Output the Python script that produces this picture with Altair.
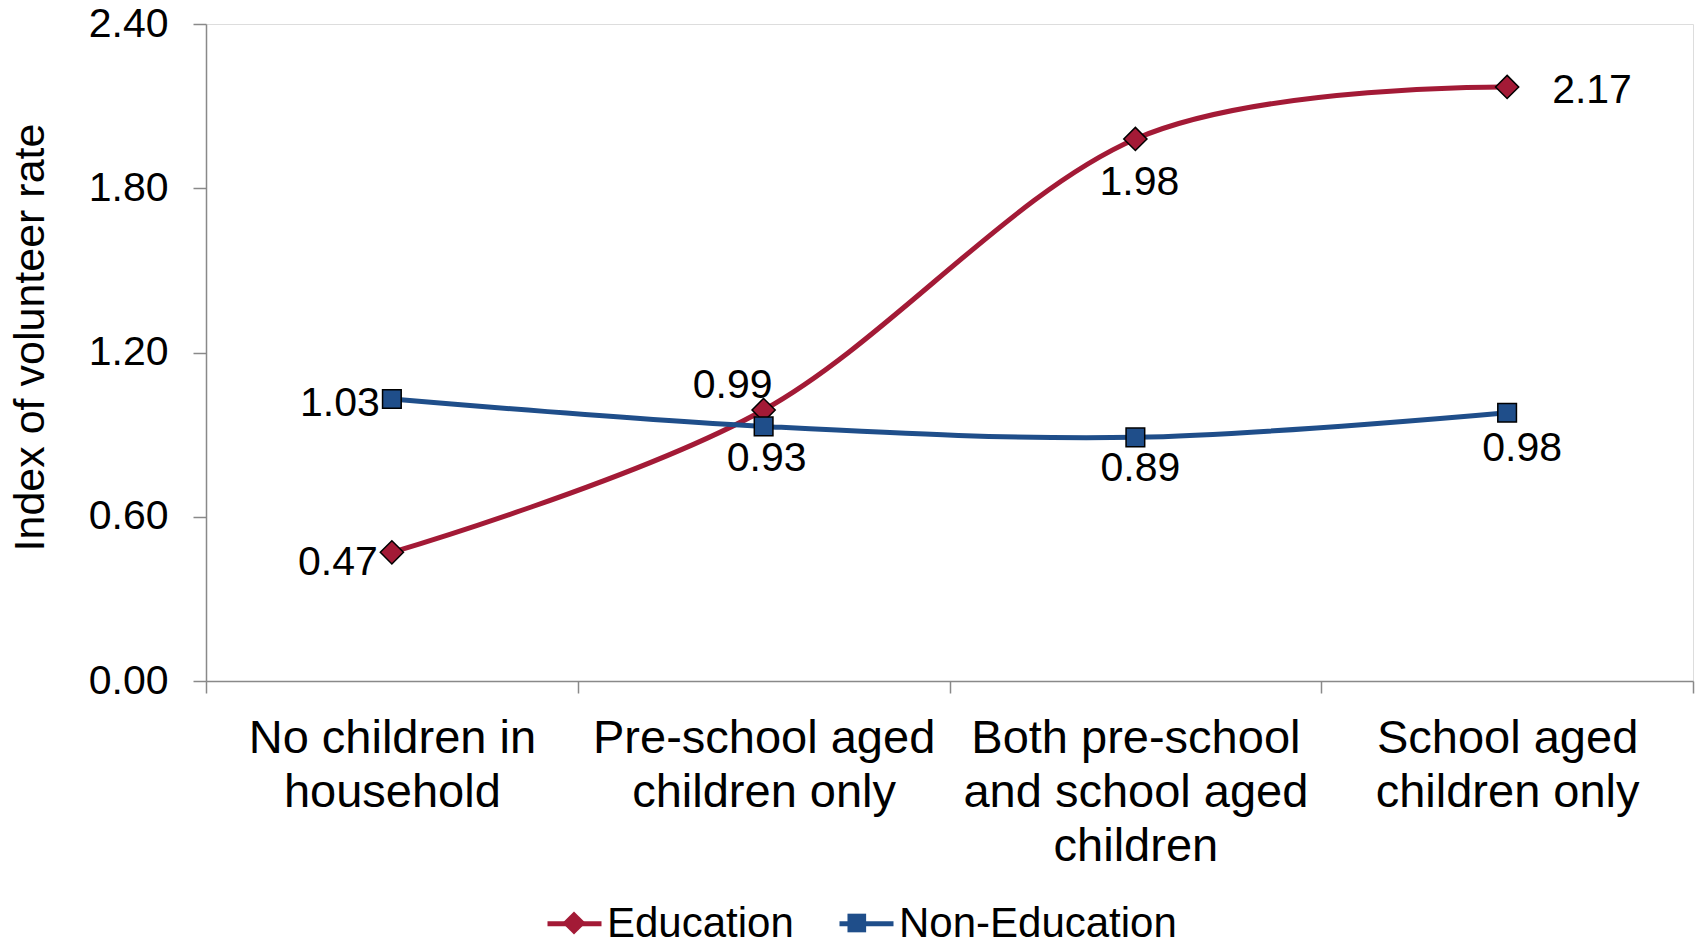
import altair as alt
import pandas as pd

# ---- data ----
categories = [
    "No children in\nhousehold",
    "Pre-school aged\nchildren only",
    "Both pre-school\nand school aged\nchildren",
    "School aged\nchildren only",
]
series_names = ["Education", "Non-Education"]
education = [0.47, 0.99, 1.98, 2.17]
non_education = [1.03, 0.93, 0.89, 0.98]
y_ticks = [0.0, 0.6, 1.2, 1.8, 2.4]

# ---- styling ----
colors = ["#A31A36", "#1F4E8A"]
FONT = "Liberation Sans"
AXIS_GREY = "#898989"
W, H = 1487, 657
MARKER_SIZE = 3192   # custom paths below are scaled inside this box
DIAMOND = "M0,-0.41L0.41,0L0,0.41L-0.41,0Z"
SQUARE = "M-0.33,-0.33H0.33V0.33H-0.33Z"
LEGEND_LABEL_W = 186.8   # width of "Education" at 42px, used to align the marker overlay legend

# data-label nudges (align, dx, dy) per series / category index
label_nudge = {
    ("Education", 0): ("right", -14, 11),
    ("Education", 1): ("center", -31, -24),
    ("Education", 2): ("center", 4, 44),
    ("Education", 3): ("left", 45, 4),
    ("Non-Education", 0): ("right", -12, 5),
    ("Non-Education", 1): ("center", 3, 33),
    ("Non-Education", 2): ("center", 5, 32),
    ("Non-Education", 3): ("center", 15, 36),
}

rows = []
for s, vals in zip(series_names, [education, non_education]):
    for i, (c, v) in enumerate(zip(categories, vals)):
        rows.append({"category": c, "idx": i, "series": s, "marker": s,
                     "value": v, "label": f"{v:.2f}"})
df = pd.DataFrame(rows)

x_enc = alt.X(
    "category:N",
    scale=alt.Scale(type="band", domain=categories, paddingInner=0, paddingOuter=0),
    bandPosition=0.5,
    title=None,
    axis=alt.Axis(
        labelExpr="split(datum.label, '\\n')",
        labelFont=FONT, labelFontSize=47, labelLineHeight=54, labelColor="black",
        labelPadding=22, labelAngle=0, labelLimit=1000, labelOverlap=False,
        labelBound=False, labelFlush=False, labelBaseline="top",
        tickBand="extent", tickSize=12, tickColor=AXIS_GREY, tickWidth=1.5,
        domainColor=AXIS_GREY, domainWidth=1.5, grid=False,
    ),
)
y_enc = alt.Y(
    "value:Q",
    scale=alt.Scale(domain=[0, 2.4], nice=False, zero=True),
    axis=alt.Axis(
        values=y_ticks, format=".2f", grid=False,
        title="Index of volunteer rate", titleFont=FONT, titleFontSize=43,
        titleFontWeight="normal", titleColor="black",
        titleX=-163, titleY=313, titleBaseline="alphabetic", titleAlign="center",
        labelFont=FONT, labelFontSize=41, labelColor="black", labelPadding=25,
        tickSize=13, tickColor=AXIS_GREY, tickWidth=1.5,
        domainColor=AXIS_GREY, domainWidth=1.5, labelLimit=1000,
    ),
)

legend_common = dict(
    orient="none", legendX=339, legendY=870, direction="horizontal", title=None,
    labelFont=FONT, labelFontSize=42, labelColor="black", labelOffset=3,
    labelLimit=1000, padding=0,
)

lines = alt.Chart(df).mark_line(interpolate="cardinal", strokeWidth=5).encode(
    x=x_enc,
    y=y_enc,
    stroke=alt.Stroke(
        "series:N", scale=alt.Scale(range=colors),
        legend=alt.Legend(symbolType="stroke", symbolSize=2916,
                          symbolStrokeWidth=5, zindex=0, columnPadding=35,
                          **legend_common),
    ),
    order="idx:Q",
)

point_legend = alt.Legend(symbolSize=MARKER_SIZE, symbolStrokeColor="black",
                          symbolStrokeWidth=1.5, symbolOpacity=1, labelExpr="''",
                          columnPadding=35 + LEGEND_LABEL_W, zindex=1,
                          **legend_common)
points = alt.Chart(df).mark_point(
    filled=True, opacity=1, stroke="black", strokeWidth=1.5, size=MARKER_SIZE
).encode(
    x=x_enc,
    y=y_enc,
    fill=alt.Fill("marker:N", scale=alt.Scale(range=colors), legend=point_legend),
    shape=alt.Shape("marker:N", scale=alt.Scale(range=[DIAMOND, SQUARE]),
                    legend=point_legend),
)

texts = []
for (s, i), (align, dx, dy) in label_nudge.items():
    t = alt.Chart(df).transform_filter(
        (alt.datum.series == s) & (alt.datum.idx == i)
    ).mark_text(
        font=FONT, fontSize=41, color="black", align=align,
        baseline="middle", dx=dx, dy=dy,
    ).encode(x=x_enc, y=y_enc, text="label:N")
    texts.append(t)

chart = alt.layer(lines, points, *texts).properties(
    width=W, height=H,
    autosize=alt.AutoSizeParams(type="none"),
    padding={"left": 198, "top": 16, "right": 3, "bottom": 261},
).configure_view(strokeWidth=0).configure(background="white")

chart.save("out.html", embed_options={"renderer": "svg", "actions": False})
